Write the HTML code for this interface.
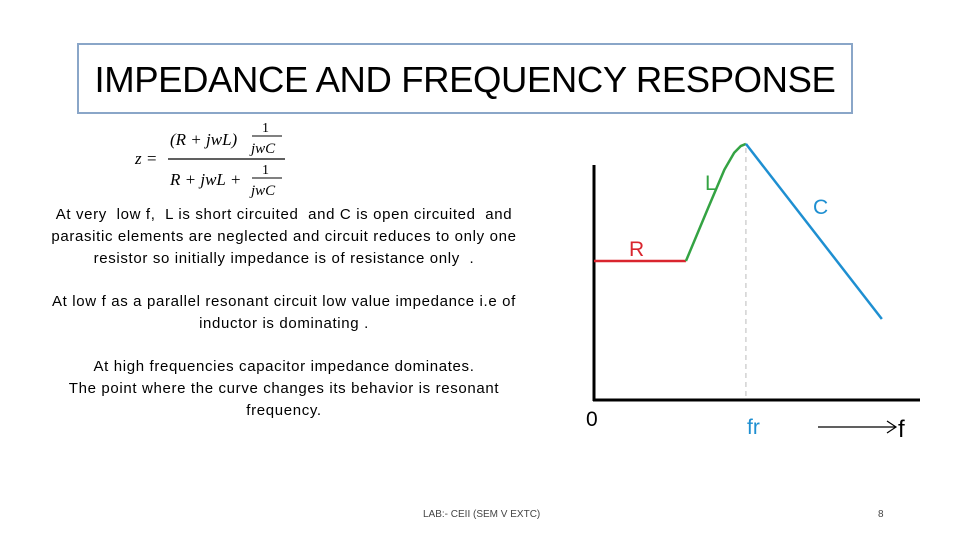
<!DOCTYPE html>
<html><head><meta charset="utf-8"><style>
body{margin:0;width:960px;height:540px;background:#fff;position:relative;overflow:hidden;font-family:"Liberation Sans",sans-serif;}
.title{position:absolute;left:77px;top:43px;width:776px;height:71px;border:2px solid #8aa6c8;box-sizing:border-box;text-align:center;font-size:36.5px;line-height:69px;color:#000;letter-spacing:-0.4px;}
.p{position:absolute;text-align:center;font-size:15px;line-height:22px;color:#000;width:520px;left:24px;letter-spacing:0.65px;}
.foot{position:absolute;top:509px;font-size:10px;color:#444;}
</style></head><body>
<div class="title">IMPEDANCE AND FREQUENCY RESPONSE</div>
<svg width="160" height="82" style="position:absolute;left:130px;top:118px">
<text x="5" y="46" font-family="Liberation Serif" font-style="italic" font-size="17">z =</text>
<text x="40" y="27" font-family="Liberation Serif" font-style="italic" font-size="17">(R + jwL)</text>
<text x="132" y="14" font-family="Liberation Serif" font-size="14">1</text>
<line x1="122" y1="18" x2="152" y2="18" stroke="#000" stroke-width="1"/>
<text x="121" y="35" font-family="Liberation Serif" font-style="italic" font-size="15">jwC</text>
<line x1="38" y1="41" x2="155" y2="41" stroke="#000" stroke-width="1.2"/>
<text x="40" y="67" font-family="Liberation Serif" font-style="italic" font-size="17">R + jwL +</text>
<text x="132" y="56" font-family="Liberation Serif" font-size="14">1</text>
<line x1="122" y1="60" x2="152" y2="60" stroke="#000" stroke-width="1"/>
<text x="121" y="77" font-family="Liberation Serif" font-style="italic" font-size="15">jwC</text>
</svg>
<div class="p" style="top:204px">At very&nbsp; low f,&nbsp; L is short circuited&nbsp; and C is open circuited&nbsp; and<br>parasitic elements are neglected and circuit reduces to only one<br>resistor so initially impedance is of resistance only&nbsp; .</div>
<div class="p" style="top:291px">At low f as a parallel resonant circuit low value impedance i.e of<br>inductor is dominating .</div>
<div class="p" style="top:356px">At high frequencies capacitor impedance dominates.<br>The point where the curve changes its behavior is resonant<br>frequency.</div>
<div class="foot" style="left:423px">LAB:- CEII (SEM V EXTC)</div>
<div class="foot" style="left:878px">8</div>
<svg id="chart" width="960" height="540" style="position:absolute;left:0;top:0"></svg>
<script>
const rFreq=[0,0.282];const rImp=[0.579,0.579];
const lFreq=[0.282,0.35,0.40,0.43,0.45,0.466];const lImp=[0.579,0.80,0.96,1.03,1.058,1.067];
const cFreq=[0.466,0.883];const cImp=[1.067,0.3375];
const resonantFreq=0.466;
const NS="http://www.w3.org/2000/svg";
const svg=document.getElementById('chart');
const xs=v=>594+v*326, ys=v=>400-v*240;
function mk(tag,attrs){const e=document.createElementNS(NS,tag);for(const k in attrs)e.setAttribute(k,attrs[k]);svg.appendChild(e);return e;}
let e;
e=mk('line',{x1:xs(resonantFreq),y1:148,x2:xs(resonantFreq),y2:400,stroke:'#bbb','stroke-width':1,'stroke-dasharray':'5,4'});


e=mk('line',{x1:594,y1:165,x2:594,y2:401,stroke:'#000','stroke-width':3});


e=mk('line',{x1:593,y1:400,x2:920,y2:400,stroke:'#000','stroke-width':3});


function series(fr,im,col,name){const p=fr.map((f,i)=>xs(f)+','+ys(im[i])).join(' ');
const l=mk('polyline',{points:p,fill:'none',stroke:col,'stroke-width':2.5,'stroke-linejoin':'round'});

}
series(rFreq,rImp,'#d9252e','resistance-segment');
series(lFreq,lImp,'#34a343','inductor-segment');
series(cFreq,cImp,'#1e8fd1','capacitor-segment');
function txt(x,y,s,col,name,size){const t=mk('text',{x:x,y:y,fill:col,'font-size':size||21,'font-family':'Liberation Sans'});t.textContent=s;

}
txt(629,256,'R','#d9252e','label-r');
txt(705,190,'L','#34a343','label-l');
txt(813,214,'C','#1e8fd1','label-c');
txt(586,426,'0','#000','origin-label');
txt(747,434,'fr','#1e8fd1','fr-label');
txt(898,437,'f','#000','f-label',24);
e=mk('path',{d:'M818,427 H895 M887,421 L896,427 L887,433',fill:'none',stroke:'#000','stroke-width':1.2});


</script>
</body></html>
